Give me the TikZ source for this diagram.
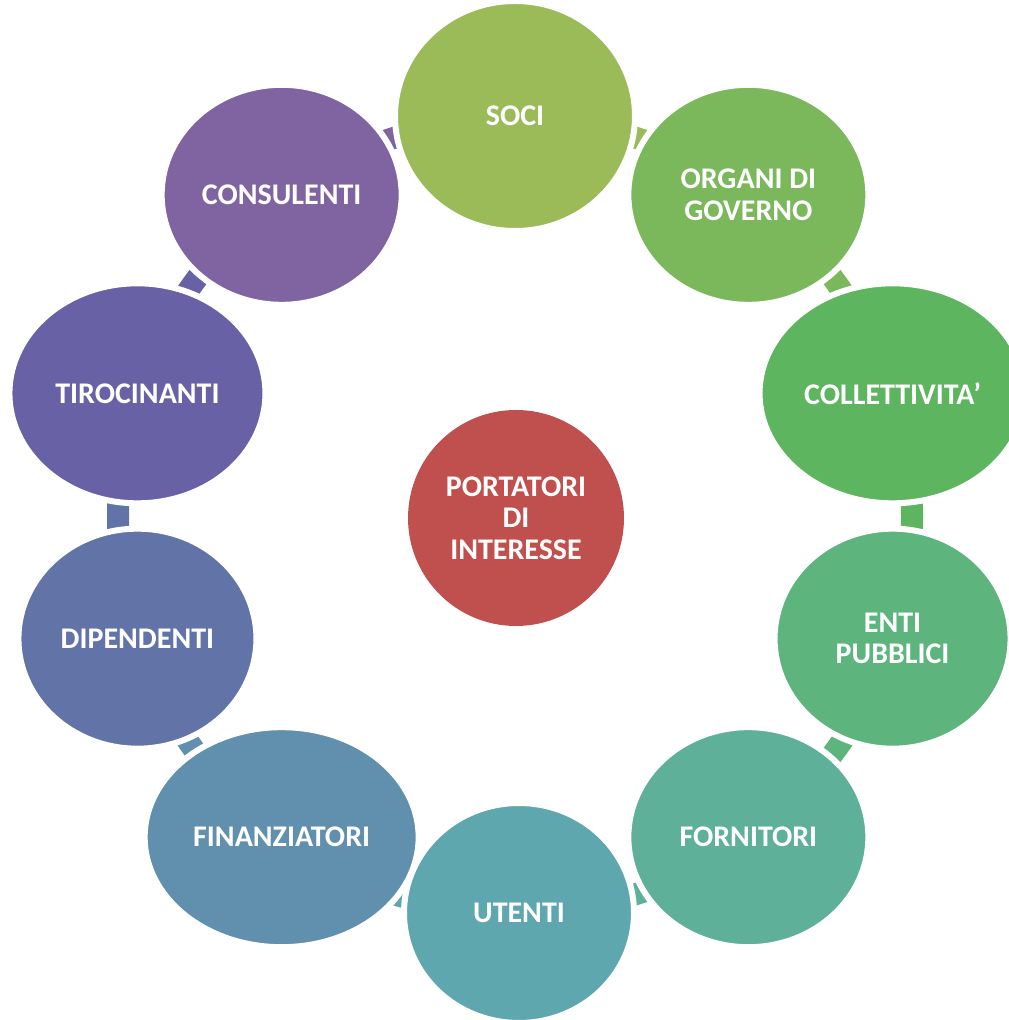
\documentclass[tikz,border=0pt]{standalone}
\usepackage{fontspec}
\setmainfont{Carlito}
\usetikzlibrary{shapes.geometric,calc}
\definecolor{soci}{HTML}{9BBB59}
\definecolor{organi}{HTML}{7BB75B}
\definecolor{collett}{HTML}{5DB55F}
\definecolor{enti}{HTML}{5DB47D}
\definecolor{fornit}{HTML}{5EB098}
\definecolor{utenti}{HTML}{5EA7AF}
\definecolor{finanz}{HTML}{6090AE}
\definecolor{dipend}{HTML}{6273A8}
\definecolor{tiroc}{HTML}{6961A5}
\definecolor{consul}{HTML}{8064A2}
\definecolor{portat}{HTML}{C0504D}
\begin{document}
\begin{tikzpicture}[x=0.75pt,y=0.75pt,
    blob/.style={ellipse,draw=white,line width=4.5pt,inner sep=0pt,minimum height=165pt,
        text=white,align=center,font=\fontsize{22.5}{23.5}\selectfont\bfseries},
    band/.style={line width=16.5pt,line cap=butt}]
                        % \draw[help lines] (0,0) grid[step=100] (1009,1020);
                        \useasboundingbox (0,0) rectangle (1009,1020);
                        \coordinate (C) at (515,504);
                        \coordinate (P1) at ($(C)+(90:397)$);
                        \coordinate (P2) at ($(C)+(54:397)$);
                        \coordinate (P3) at ($(C)+(18:397)$);
                        \coordinate (P4) at ($(C)+(-18:397)$);
                        \coordinate (P5) at ($(C)+(-54:397)$);
                        \coordinate (P6) at ($(C)+(-90:397)$);
                        \coordinate (P7) at ($(C)+(-126:397)$);
                        \coordinate (P8) at ($(C)+(-162:397)$);
                        \coordinate (P9) at ($(C)+(162:397)$);
                        \coordinate (P10) at ($(C)+(126:397)$);
                        % ring pieces between the circles
                        \draw [band,soci] (P1) arc[start angle=90,end angle=54,radius=397];
                        \draw [band,organi] (P2) arc[start angle=54,end angle=18,radius=397];
                        \draw [band,collett] (P3) arc[start angle=18,end angle=-18,radius=397];
                        \draw [band,enti] (P4) arc[start angle=-18,end angle=-54,radius=397];
                        \draw [band,fornit] (P5) arc[start angle=-54,end angle=-90,radius=397];
                        \draw [band,utenti] (P6) arc[start angle=-90,end angle=-126,radius=397];
                        \draw [band,finanz] (P7) arc[start angle=-126,end angle=-162,radius=397];
                        \draw [band,dipend] (P8) arc[start angle=-162,end angle=-198,radius=397];
                        \draw [band,tiroc] (P9) arc[start angle=162,end angle=126,radius=397];
                        \draw [band,consul] (P10) arc[start angle=126,end angle=90,radius=397];
                        % the circles
                        \node [blob,fill=soci,minimum width=180pt,minimum height=172.5pt] (soci) at ($(P1)+(0,3)$) {SOCI};
                        \node [blob,fill=organi,minimum width=180pt] (organi) at (P2) {ORGANI DI\\GOVERNO};
                        \node [blob,fill=collett,minimum width=199.5pt] (collett) at (P3) {COLLETTIVITA’};
                        \node [blob,fill=enti,minimum width=177pt] (enti) at (P4) {ENTI\\PUBBLICI};
                        \node [blob,fill=fornit,minimum width=180pt] (fornit) at (P5) {FORNITORI};
                        \node [blob,fill=utenti,minimum width=172.5pt] (utenti) at ($(P6)+(4,0)$) {UTENTI};
                        \node [blob,fill=finanz,minimum width=205.5pt] (finanz) at (P7) {FINANZIATORI};
                        \node [blob,fill=dipend,minimum width=178.5pt] (dipend) at (P8) {DIPENDENTI};
                        \node [blob,fill=tiroc,minimum width=192pt] (tiroc) at (P9) {TIROCINANTI};
                        \node [blob,fill=consul,minimum width=180pt] (consul) at (P10) {CONSULENTI};
                        \node [blob,draw=none,fill=portat,minimum width=162pt,minimum height=162pt] (portat) at (516,502) {PORTATORI\\DI\\INTERESSE};
                    \end{tikzpicture}
\end{document}
